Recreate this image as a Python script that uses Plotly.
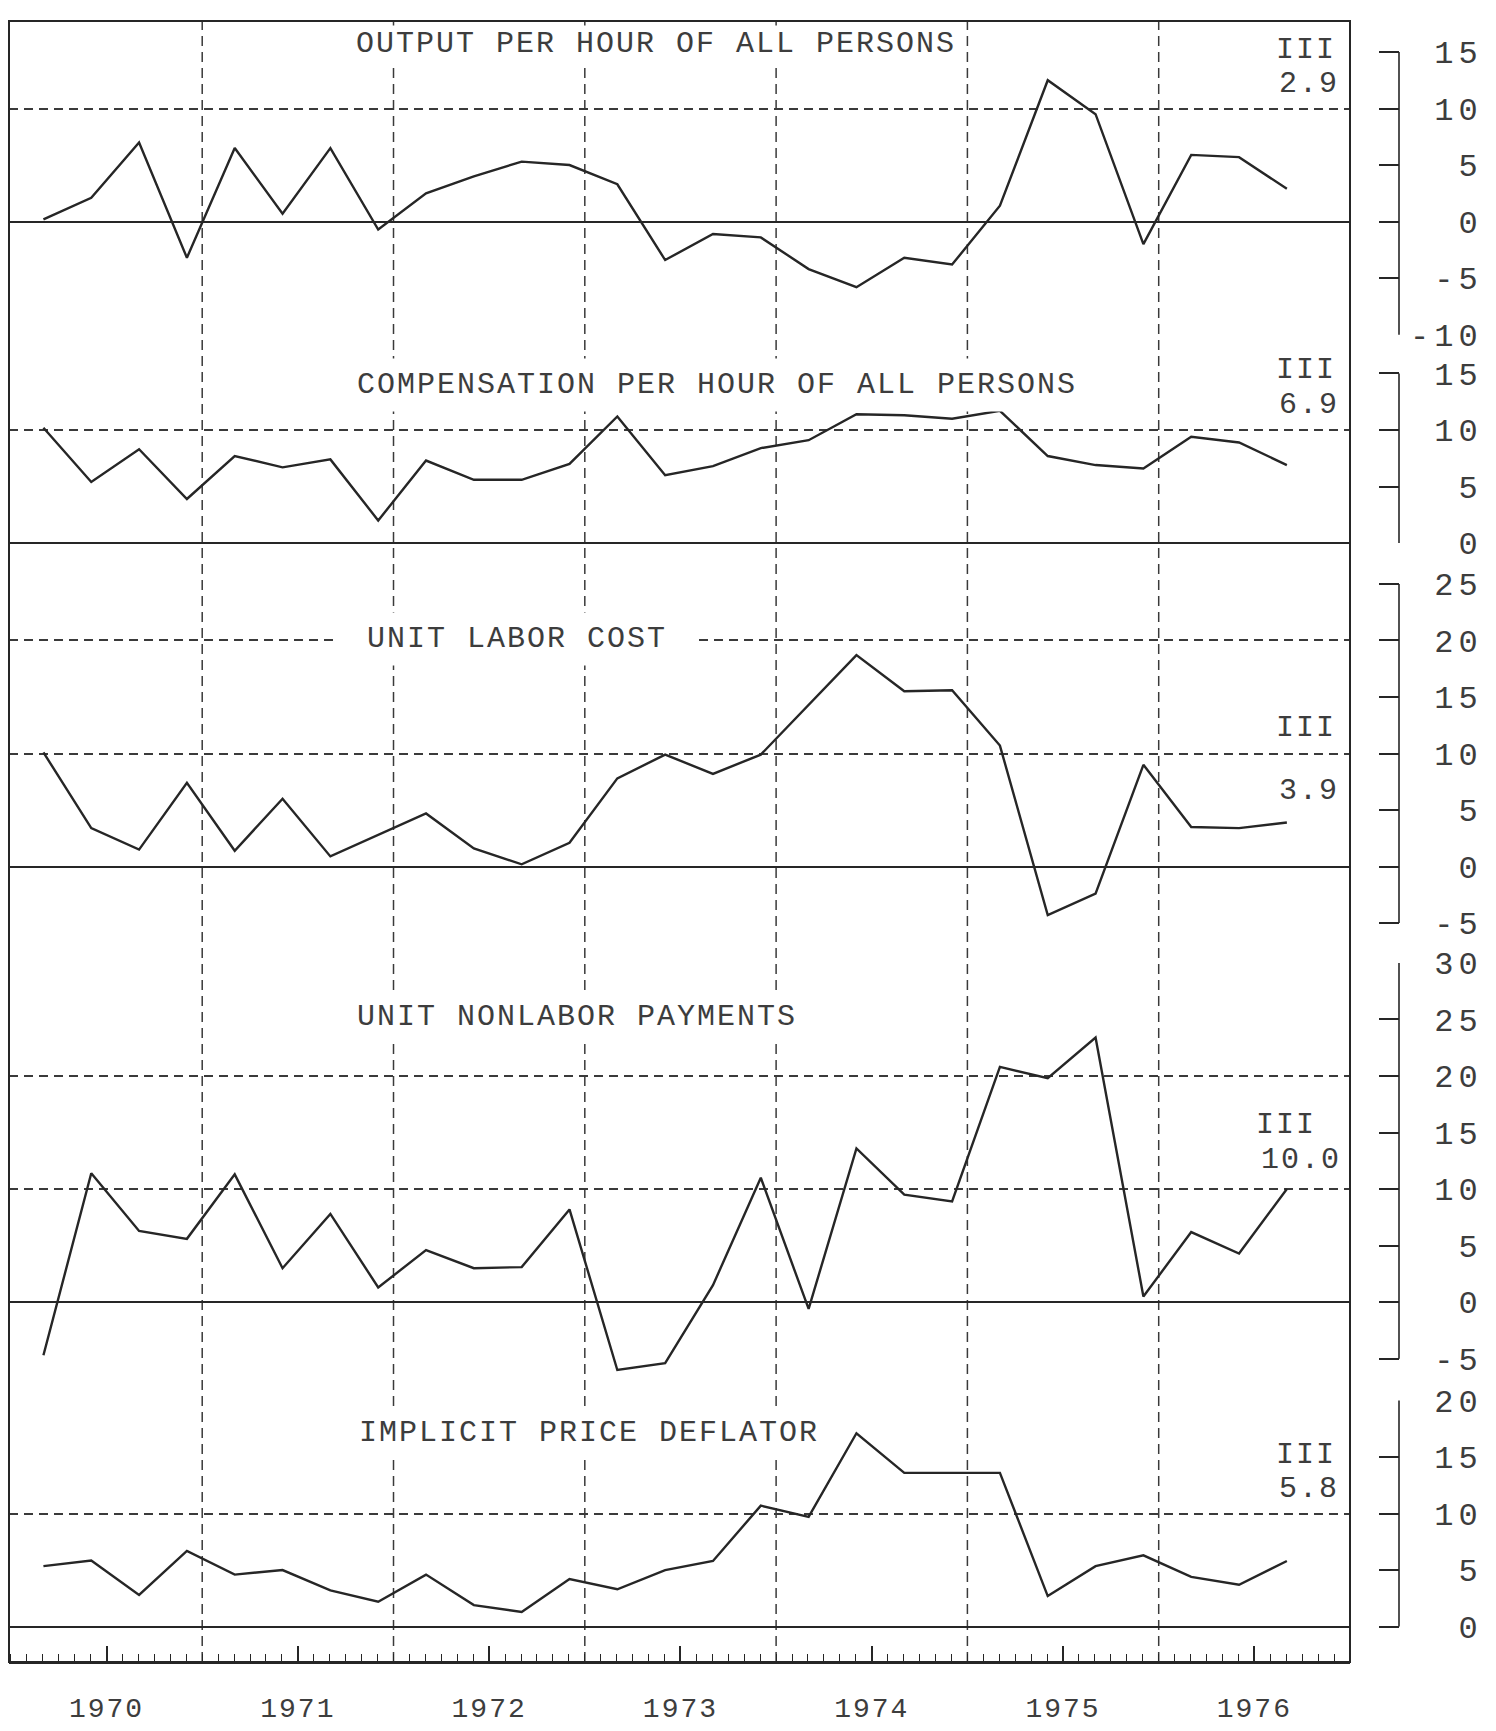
import plotly.graph_objects as go

# ---------------- data (percent change, quarterly, 1970 I - 1976 III) ----------------
year_list = [1970, 1971, 1972, 1973, 1974, 1975, 1976]
periods = [(y, q) for y in year_list for q in (1, 2, 3, 4)][:27]

output_per_hour = [0.2, 2.1, 7.0, -3.2, 6.5, 0.7, 6.5, -0.7, 2.5, 4.0, 5.3, 5.0,
                   3.3, -3.4, -1.1, -1.4, -4.2, -5.8, -3.2, -3.8, 1.4, 12.5, 9.5, -2.0,
                   5.9, 5.7, 2.9]
compensation_per_hour = [10.2, 5.4, 8.3, 3.9, 7.7, 6.7, 7.4, 2.0, 7.3, 5.6, 5.6, 7.0,
                         11.2, 6.0, 6.8, 8.4, 9.1, 11.4, 11.3, 11.0, 11.7, 7.7, 6.9, 6.6,
                         9.4, 8.9, 6.9]
unit_labor_cost = [10.1, 3.4, 1.5, 7.4, 1.4, 6.0, 0.9, 2.8, 4.7, 1.6, 0.2, 2.1,
                   7.8, 9.9, 8.2, 9.9, 14.3, 18.7, 15.5, 15.6, 10.7, -4.3, -2.4, 9.0,
                   3.5, 3.4, 3.9]
unit_nonlabor_payments = [-4.7, 11.4, 6.3, 5.6, 11.3, 3.0, 7.8, 1.3, 4.6, 3.0, 3.1, 8.2,
                          -6.0, -5.4, 1.5, 11.0, -0.6, 13.6, 9.5, 8.9, 20.8, 19.8, 23.4, 0.5,
                          6.2, 4.3, 10.0]
implicit_price_deflator = [5.35, 5.85, 2.8, 6.7, 4.6, 5.0, 3.2, 2.2, 4.6, 1.9, 1.3, 4.2,
                           3.3, 5.0, 5.8, 10.7, 9.7, 17.1, 13.6, 13.6, 13.6, 2.7, 5.35, 6.3,
                           4.4, 3.7, 5.8]

titles = ["OUTPUT PER HOUR OF ALL PERSONS",
          "COMPENSATION PER HOUR OF ALL PERSONS",
          "UNIT LABOR COST",
          "UNIT NONLABOR PAYMENTS",
          "IMPLICIT PRICE DEFLATOR"]
last_labels = ["2.9", "6.9", "3.9", "10.0", "5.8"]
tick_sets = [[-10, -5, 0, 5, 10, 15],
             [0, 5, 10, 15],
             [-5, 0, 5, 10, 15, 20, 25],
             [-5, 0, 5, 10, 15, 20, 25, 30],
             [0, 5, 10, 15, 20]]
year_labels = [str(y) for y in year_list]

series = [output_per_hour, compensation_per_hour, unit_labor_cost,
          unit_nonlabor_payments, implicit_price_deflator]

# ---------------- geometry (page pixels) ----------------
W, H = 1496, 1731
ML, MR, MT, MB = 9, 97, 6, 56
PW, PH = W - ML - MR, H - MT - MB
FRAME_RIGHT = 1350
XD = (FRAME_RIGHT - ML) / PW


def fy(py):
    return (H - MB - py) / PH


def fx(px):
    return (px - ML) / PW


SCALE = 11.5  # px per percentage point
zero_px = [210, 537, 866, 1309, 1639]
bounds_px = [(6, 326), (326, 538), (538, 963), (963, 1408), (1408, 1675)]
title_pos = [(656, 29), (717, 376), (517, 635), (577, 1019), (589, 1442)]
title_pad = [1, 9, 9, 9, 9]
iii_pos = [(1338, 35), (1338, 361), (1338, 725), (1318, 1129), (1338, 1464)]
val_pos = [(1341, 70), (1341, 397), (1341, 789), (1343, 1164), (1341, 1499)]

INK = "#262626"
GRID = "#3a3a3a"
TXT = "#3d3d3d"
FONT = "Liberation Mono"
SP = "letter-spacing:2px"
SP_TICK = "letter-spacing:5px"

xs = [y + (q - 1) / 4 + 0.17 for (y, q) in periods]

fig = go.Figure()
layout = dict(
    width=W, height=H,
    margin=dict(l=ML, r=MR, t=MT, b=MB),
    paper_bgcolor="white", plot_bgcolor="white",
    showlegend=False,
    font=dict(family=FONT, color=TXT, size=30),
)

shapes = []
annotations = []

for i in range(5):
    n = i + 1
    xa = "x" if n == 1 else f"x{n}"
    ya = "y" if n == 1 else f"y{n}"
    top, bot = bounds_px[i]
    z = zero_px[i]
    rng = [(z - bot) / SCALE, (z - top) / SCALE]
    grid_vals = [v for v in (-10, 10, 20, 30) if rng[0] <= v <= rng[1]]
    ticks = tick_sets[i]
    ticktext = [f"<span style='{SP_TICK}'>" + "\u00a0" * (3 - len(str(t))) + str(t) + "</span>"
                for t in ticks]

    fig.add_trace(go.Scatter(
        x=xs, y=series[i], mode="lines",
        line=dict(color=INK, width=2.4),
        xaxis=xa, yaxis=ya, hoverinfo="skip", showlegend=False,
    ))

    xkey = "xaxis" if n == 1 else f"xaxis{n}"
    ykey = "yaxis" if n == 1 else f"yaxis{n}"
    xdef = dict(domain=[0, XD], range=[1969.99, 1977], anchor=ya,
                showgrid=False, zeroline=False, showline=False)
    if n < 5:
        xdef.update(showticklabels=False, ticks="", matches="x5")
    else:
        xdef.update(
            tickmode="array",
            tickvals=[y + 0.5 for y in year_list],
            ticktext=[f"<span style='{SP}'>{t}</span>" for t in year_labels],
            ticks="inside", ticklen=16, tickwidth=1.5, tickcolor=INK,
            showline=True, linecolor=INK, linewidth=2,
            tickfont=dict(family=FONT, size=28, color=TXT),
            ticklabelstandoff=19,
            minor=dict(tick0=1970, dtick=1 / 12, ticks="inside", ticklen=8,
                       tickwidth=1.2, tickcolor=INK, showgrid=False),
        )
    layout[xkey] = xdef

    layout[ykey] = dict(
        domain=[fy(bot), fy(top)], range=rng,
        anchor="free", position=1, side="right",
        tickmode="array", tickvals=ticks, ticktext=ticktext,
        ticks="inside", ticklen=20, tickwidth=1.5, tickcolor=INK,
        tickfont=dict(family=FONT, size=32, color=TXT),
        ticklabelstandoff=10,
        showline=False, showgrid=False,
        zeroline=True, zerolinecolor=INK, zerolinewidth=1.7,
        minor=dict(tickmode="array", tickvals=grid_vals, ticks="",
                   showgrid=True, gridcolor=GRID, gridwidth=1.6,
                   griddash="9px,6px"),
    )

    # right-hand scale line spanning the labelled range
    shapes.append(dict(type="line", xref="paper", yref=ya, x0=1, x1=1,
                       y0=min(ticks), y1=max(ticks),
                       line=dict(color=INK, width=1.6)))

    tx, ty = title_pos[i]
    ttl = titles[i]
    if i == 2:
        ttl = "\u00a0" + ttl + "\u00a0"
    annotations.append(dict(
        xref="paper", yref="paper", x=fx(tx), y=fy(ty),
        text=f"<span style='{SP}'>{ttl}</span>", showarrow=False,
        xanchor="center", yanchor="middle",
        font=dict(family=FONT, size=30, color=TXT),
        bgcolor="white", borderpad=title_pad[i],
    ))
    ix, iy = iii_pos[i]
    annotations.append(dict(
        xref="paper", yref="paper", x=fx(ix), y=fy(iy),
        text=f"<span style='{SP}'>III</span>", showarrow=False,
        xanchor="right", yanchor="middle",
        font=dict(family=FONT, size=30, color=TXT),
    ))
    vx, vy = val_pos[i]
    annotations.append(dict(
        xref="paper", yref="paper", x=fx(vx), y=fy(vy),
        text=f"<span style='{SP}'>{last_labels[i]}</span>", showarrow=False,
        xanchor="right", yanchor="middle",
        font=dict(family=FONT, size=30, color=TXT),
    ))

# vertical year separators (dashed), full height of the chart
for y in year_list[1:]:
    shapes.append(dict(type="line", xref="x5", yref="paper", x0=y, x1=y, y0=0, y1=1,
                       layer="below", line=dict(color=GRID, width=1.5, dash="10px,6px")))

# outer frame
shapes.append(dict(type="rect", xref="paper", yref="paper", x0=0, x1=XD, y0=0, y1=1,
                   line=dict(color=INK, width=2), fillcolor="rgba(0,0,0,0)", layer="above"))

layout["shapes"] = shapes
layout["annotations"] = annotations
fig.update_layout(**layout)

fig.write_html("out.html", config={"displayModeBar": False},
               post_script="document.body.style.margin='0';document.body.style.overflow='hidden';")
